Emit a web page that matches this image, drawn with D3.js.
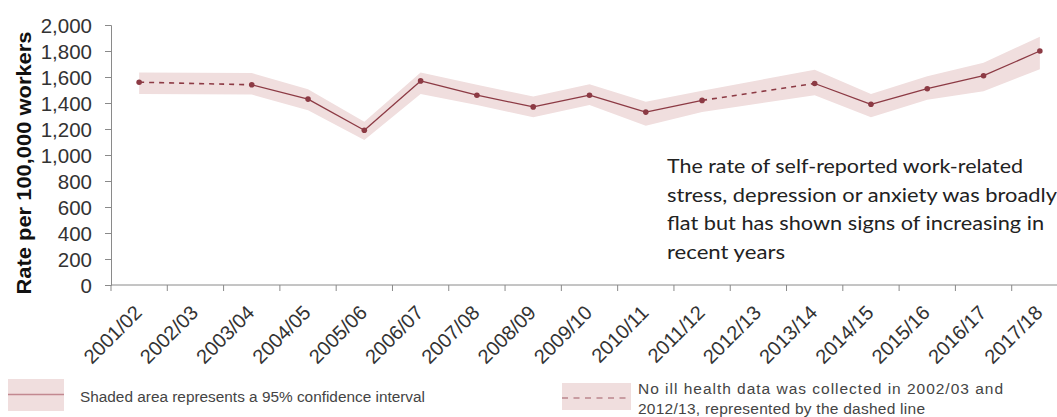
<!DOCTYPE html>
<html>
<head>
<meta charset="utf-8">
<script src="https://cdn.jsdelivr.net/npm/d3@7"></script>
<style>
  html, body { margin: 0; padding: 0; background: #fff; }
  svg { display: block; }
</style>
</head>
<body>
<svg id="chart" width="1057" height="417"></svg>
<script>
// Self-reported work-related stress, depression or anxiety, rate per 100,000 workers
const years = ["2001/02","2002/03","2003/04","2004/05","2005/06","2006/07","2007/08","2008/09",
               "2009/10","2010/11","2011/12","2012/13","2013/14","2014/15","2015/16","2016/17","2017/18"];
// null = no ill health data collected that year
const rate    = [1560, null, 1540, 1430, 1190, 1570, 1460, 1370, 1460, 1330, 1420, null, 1550, 1390, 1510, 1610, 1800];
const ciLower = [1470, null, 1465, 1345, 1115, 1470, 1385, 1290, 1385, 1225, 1330, null, 1460, 1290, 1425, 1490, 1660];
const ciUpper = [1635, null, 1630, 1505, 1255, 1635, 1540, 1450, 1545, 1410, 1495, null, 1655, 1470, 1605, 1710, 1910];
const yTicks = [0, 200, 400, 600, 800, 1000, 1200, 1400, 1600, 1800, 2000];

const yAxisTitle = "Rate per 100,000 workers";
const noteLines = [
  "The rate of self-reported work-related",
  "stress, depression or anxiety was broadly",
  "flat but has shown signs of increasing in",
  "recent years"
];
const noteWidths = [356, 390, 377, 118];
const legendCI = "Shaded area represents a 95% confidence interval";
const legendGap = ["No ill health data was collected in 2002/03 and",
                   "2012/13, represented by the dashed line"];
const legendGapWidths = [365, 287];

const lineColor = "#8c3a44";
const bandColor = "#f0dede";
const axisColor = "#8a8a8a";
const textColor = "#333";
const sans = "'Liberation Sans', Arial, sans-serif";

const svg = d3.select("#chart");
const plot = { left: 111, right: 1068, top: 25, bottom: 285 };

const x = d3.scaleBand().domain(years).range([plot.left, plot.right]).padding(0);
const y = d3.scaleLinear().domain([0, 2000]).range([plot.bottom, plot.top]);
const cx = d => x(d) + x.bandwidth() / 2;

const rows = years.map((yr, i) => ({ yr, v: rate[i], lo: ciLower[i], hi: ciUpper[i] }));
const known = rows.filter(r => r.v != null);

// confidence band across all years with data
svg.append("path")
  .datum(known)
  .attr("fill", bandColor)
  .attr("d", d3.area().x(r => cx(r.yr)).y0(r => y(r.lo)).y1(r => y(r.hi)));

// axes
const yAxis = d3.axisLeft(y).tickValues(yTicks).tickSize(6).tickPadding(13)
  .tickFormat(d3.format(","));
const gy = svg.append("g").attr("transform", `translate(${plot.left},0)`).call(yAxis);
gy.attr("font-family", null).attr("font-size", null);
gy.select(".domain").attr("stroke", axisColor);
gy.selectAll(".tick line").attr("stroke", axisColor);
gy.selectAll("text").attr("fill", textColor).style("font-family", sans)
  .style("font-size", "20.5px").attr("dy", "0.36em");

const xTickPos = years.map(yr => x(yr)).concat([plot.right]);
const gx = svg.append("g").attr("transform", `translate(0,${plot.bottom})`);
gx.append("line").attr("x1", plot.left).attr("x2", plot.right).attr("stroke", axisColor);
gx.selectAll("line.tk").data(xTickPos).join("line").attr("class", "tk")
  .attr("x1", d => d).attr("x2", d => d).attr("y1", 0).attr("y2", 6).attr("stroke", axisColor);
gx.selectAll("text").data(years).join("text")
  .attr("transform", d => `translate(${cx(d) - 1},${24}) rotate(-45)`)
  .attr("text-anchor", "end")
  .attr("dy", "0.35em")
  .attr("fill", textColor)
  .style("font-family", sans)
  .style("font-size", "20px")
  .text(d => d);

// y axis title
svg.append("text")
  .attr("transform", `translate(31,${163}) rotate(-90)`)
  .attr("text-anchor", "middle")
  .attr("fill", "#111")
  .style("font-family", sans)
  .style("font-size", "20px")
  .style("font-weight", "bold")
  .attr("textLength", 263)
  .attr("lengthAdjust", "spacingAndGlyphs")
  .text(yAxisTitle);

// line segments: solid between consecutive years, dashed across a missing year
const segs = [];
for (let i = 1; i < known.length; i++) {
  const a = known[i - 1], b = known[i];
  const gap = years.indexOf(b.yr) - years.indexOf(a.yr) > 1;
  segs.push({ a, b, gap });
}
svg.selectAll("line.seg").data(segs).join("line").attr("class", "seg")
  .attr("x1", s => cx(s.a.yr)).attr("y1", s => y(s.a.v))
  .attr("x2", s => cx(s.b.yr)).attr("y2", s => y(s.b.v))
  .attr("stroke", lineColor)
  .attr("stroke-width", s => s.gap ? 1.6 : 1.3)
  .attr("stroke-dasharray", s => s.gap ? "5,5" : null);

svg.selectAll("circle.pt").data(known).join("circle").attr("class", "pt")
  .attr("cx", r => cx(r.yr)).attr("cy", r => y(r.v)).attr("r", 2.8)
  .attr("fill", lineColor);

// annotation
const note = svg.append("g")
  .attr("fill", "#222")
  .style("font-family", "Lato, 'Open Sans', sans-serif")
  .style("font-size", "19.5px");
note.selectAll("text").data(noteLines).join("text")
  .attr("x", 667).attr("y", (d, i) => 173 + i * 28.5)
  .attr("textLength", (d, i) => noteWidths[i])
  .attr("lengthAdjust", "spacingAndGlyphs")
  .text(d => d);

// legend
const lg = svg.append("g").style("font-family", sans).style("font-size", "15.5px");
lg.append("rect").attr("x", 8).attr("y", 379).attr("width", 56).attr("height", 32).attr("fill", bandColor);
lg.append("line").attr("x1", 8).attr("x2", 64).attr("y1", 394.5).attr("y2", 394.5)
  .attr("stroke", "#c28890").attr("stroke-width", 1.5);
lg.append("text").attr("x", 80).attr("y", 402).attr("fill", "#444")
  .attr("textLength", 345).attr("lengthAdjust", "spacingAndGlyphs").text(legendCI);

lg.append("rect").attr("x", 562).attr("y", 383).attr("width", 69).attr("height", 27).attr("fill", bandColor);
lg.append("line").attr("x1", 562).attr("x2", 631).attr("y1", 398).attr("y2", 398)
  .attr("stroke", "#a05a64").attr("stroke-width", 1.2).attr("stroke-dasharray", "6,5.5");
lg.selectAll("text.gap").data(legendGap).join("text").attr("class", "gap")
  .attr("x", 638).attr("y", (d, i) => 394 + i * 20)
  .attr("textLength", (d, i) => legendGapWidths[i]).attr("lengthAdjust", "spacing")
  .attr("fill", "#444").text(d => d);
</script>
</body>
</html>
